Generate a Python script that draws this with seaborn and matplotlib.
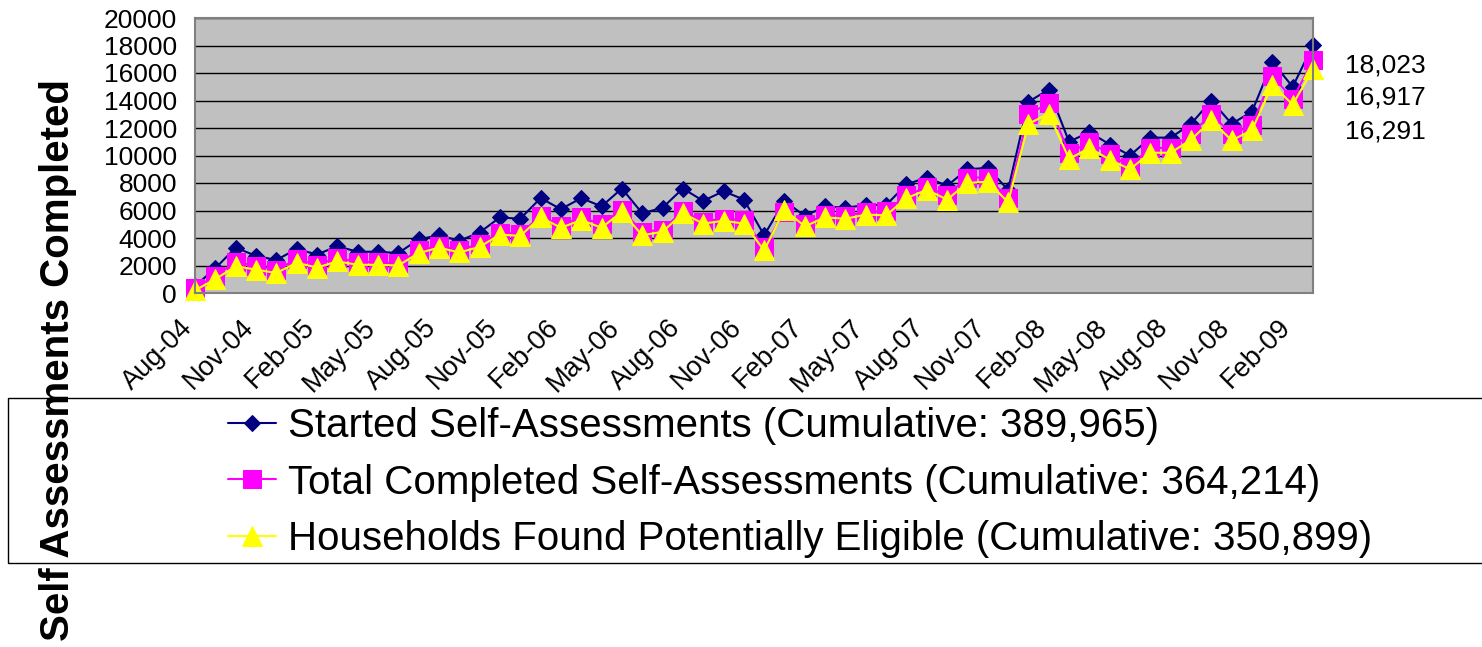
import pandas as pd
import matplotlib.pyplot as plt
import seaborn as sns
import matplotlib.transforms as mtransforms
from matplotlib.patches import Rectangle

sns.set_theme(style="white")
plt.rcParams['font.family'] = ['Liberation Sans', 'DejaVu Sans']
plt.rcParams['text.color'] = 'black'
plt.rcParams['xtick.color'] = 'black'
plt.rcParams['ytick.color'] = 'black'

months = pd.date_range("2004-08-01", periods=56, freq="MS")
month_labels = [m.strftime("%b-%y") for m in months]

started = [500, 1800, 3300, 2700, 2400, 3200, 2800, 3400, 3000, 3000, 2900,
           3900, 4200, 3800, 4400, 5500, 5400, 6900, 6100, 6900, 6300, 7600,
           5800, 6200, 7600, 6700, 7400, 6800, 4200, 6700, 5600, 6300, 6200,
           6400, 6400, 7900, 8400, 7800, 9000, 9100, 7500, 13900, 14800, 11000,
           11700, 10800, 10000, 11300, 11300, 12300, 14000, 12300, 13200, 16800, 15000, 18023]
completed = [350, 1250, 2250, 2000, 1700, 2450, 2050, 2550, 2250, 2250, 2150,
             3100, 3400, 3150, 3550, 4400, 4300, 5600, 4900, 5500, 5000, 6050,
             4450, 4600, 5950, 5200, 5400, 5300, 3350, 5900, 5000, 5700, 5600,
             5900, 5950, 7100, 7700, 7100, 8400, 8400, 6900, 13000, 13800, 10150,
             11000, 10100, 9200, 10550, 10550, 11550, 13000, 11550, 12200, 15800, 14100, 16917]
eligible = [200, 1000, 1950, 1700, 1450, 2200, 1850, 2300, 2050, 2050, 2000,
            2900, 3300, 2950, 3350, 4250, 4150, 5500, 4750, 5300, 4750, 5900,
            4200, 4450, 5800, 5050, 5250, 5050, 3100, 6050, 4850, 5500, 5400,
            5700, 5650, 6900, 7500, 6800, 8000, 8100, 6600, 12300, 13050, 9750,
            10550, 9700, 9000, 10200, 10200, 11150, 12550, 11100, 11850, 15150, 13700, 16291]

names = ["Started Self-Assessments (Cumulative: 389,965)",
         "Total Completed Self-Assessments (Cumulative: 364,214)",
         "Households Found Potentially Eligible (Cumulative: 350,899)"]

df = pd.DataFrame({"idx": range(len(months)), "started": started,
                   "completed": completed, "eligible": eligible})

fig = plt.figure(figsize=(14.82, 6.47), dpi=100)
ax = fig.add_axes([195/1482, 1-293/647, (1313-195)/1482, (293-18)/647])
ax.set_facecolor("#C0C0C0")

sns.lineplot(data=df, x="idx", y="started", ax=ax, color="#000080", marker="D",
             markersize=8.5, markeredgecolor="#000080", linewidth=1.5, label=names[0], clip_on=False)
sns.lineplot(data=df, x="idx", y="completed", ax=ax, color="#FF00FF", marker="s",
             markersize=13, markeredgecolor="#FF00FF", linewidth=1.5, label=names[1], clip_on=False)
sns.lineplot(data=df, x="idx", y="eligible", ax=ax, color="#FFFF00", marker="^",
             markersize=15, markeredgecolor="#FFFF00", linewidth=1.5, label=names[2], clip_on=False)

ax.set_xlim(0, 55)
ax.set_ylim(0, 20000)
ax.set_yticks(range(0, 20001, 2000))
ax.set_yticklabels([str(v) for v in range(0, 20001, 2000)], fontsize=19)
ax.set_xticks(range(0, 56, 3))
ax.set_xticklabels(month_labels[::3], fontsize=19.5, rotation=45, ha="right",
                   va="center", rotation_mode="anchor")
ax.tick_params(axis="x", direction="out", length=8, width=1, color="#404040", pad=14)
ax.tick_params(axis="y", direction="out", length=7, width=1, color="#404040", pad=6)
shift = mtransforms.ScaledTranslation(-6/100, 0, fig.dpi_scale_trans)
for lab in ax.get_xticklabels():
    lab.set_transform(lab.get_transform() + shift)
ax.grid(axis="y", color="black", linewidth=1)
ax.set_axisbelow(True)
for s in ax.spines.values():
    s.set_color("#808080")
    s.set_linewidth(1.5)
ax.set_xlabel("")
ax.set_ylabel("")

handles, labels = ax.get_legend_handles_labels()
ax.get_legend().remove()

# end values
for v, yp in zip([started[-1], completed[-1], eligible[-1]], [66, 98, 131]):
    fig.text(1345/1482, 1-yp/647, f"{v:,}", fontsize=19, va="center", ha="left")

box = Rectangle((8/1482, 1-563/647), 1.0, 165/647, transform=fig.transFigure,
                facecolor="white", edgecolor="black", linewidth=1, zorder=1)
fig.patches.append(box)
fig.legend(handles, labels, loc="upper left", bbox_to_anchor=(228/1482, 1-407/647),
           frameon=False, fontsize=29, handlelength=1.2, handletextpad=0.3,
           labelspacing=0.46, borderpad=0, borderaxespad=0)

fig.text(58/1482, 1-360/647, "Self Assessments Completed", rotation=90, fontsize=29,
         fontweight="bold", ha="center", va="center", zorder=5)

plt.savefig("out.png", dpi=100)
